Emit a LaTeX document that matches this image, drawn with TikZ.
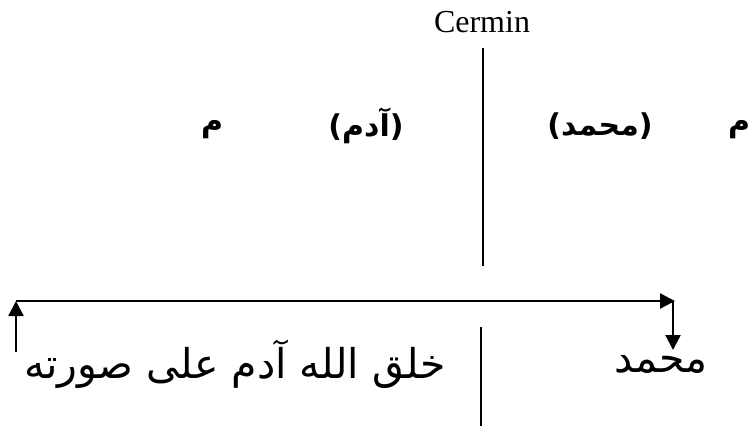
\documentclass[tikz,border=0pt]{standalone}
\usepackage{fontspec}
\setmainfont{Liberation Serif}
\newfontfamily\arabicfont[Script=Arabic]{DejaVu Sans}
\TeXXeTstate=1
\usetikzlibrary{arrows.meta,positioning}

\begin{document}
\begin{tikzpicture}[
  x=1pt,y=-1pt,
  ar/.style={inner sep=0pt,font=\arabicfont\fontsize{41}{48}\selectfont},
  arbold/.style={inner sep=0pt,font=\arabicfont\bfseries\fontsize{30}{36}\selectfont},
  arrow/.style={-{Triangle[length=15pt,width=15pt]},line width=2.2pt},
  divider/.style={line width=1.8pt}
]
\useasboundingbox (0,0) rectangle (751,426);
\node[inner sep=0pt,font=\fontsize{32}{38}\selectfont] (c) at (482,22) {Cermin};

\node[arbold] (ml) at (212,130) {\beginR م\endR};
\node[arbold] (a) at (366,126) {\beginR (آدم)\endR};
\node[arbold] (mt) at (600,126) {\beginR (محمد)\endR};
\node[arbold] (mr) at (739,130) {\beginR م\endR};

\node[ar] (h) at (235,364) {\beginR خلق الله آدم على صورته\endR};
\node[ar] (m) at (661,364) {\beginR محمد\endR};

\coordinate (t1) at (483,48); \coordinate (t2) at (483,266);
\coordinate (b1) at (481,327); \coordinate (b2) at (481,426);
\coordinate (lb) at (16,352); \coordinate (lt) at (16,301);
\coordinate (rt) at (675,301); \coordinate (rb) at (673,350);

\draw[divider] (t1)--(t2); \draw[divider] (b1)--(b2);
\draw[arrow] (lb)--(lt); \draw[arrow] (lt)--(rt); \draw[arrow] (rt-|rb)--(rb);
\end{tikzpicture}
\end{document}
